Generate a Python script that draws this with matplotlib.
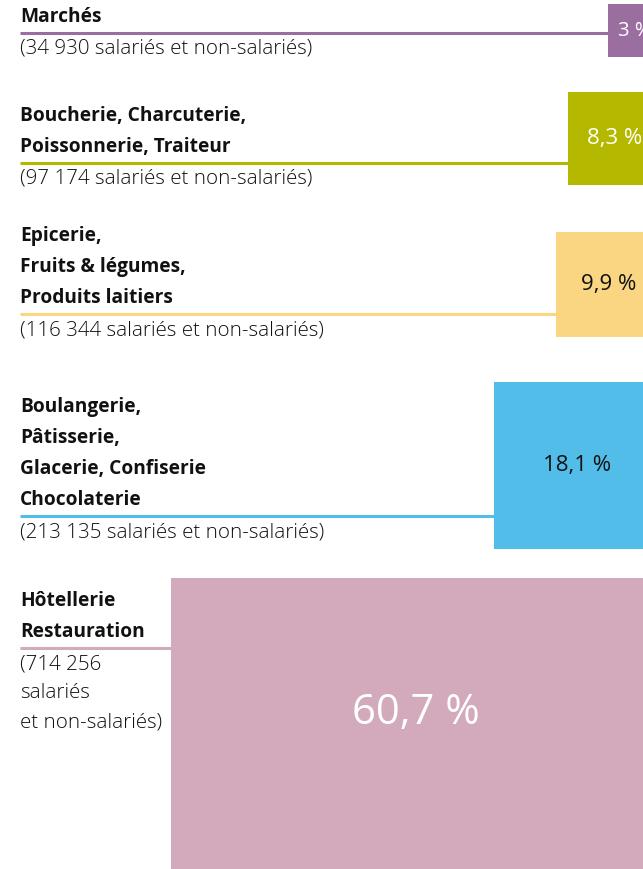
import matplotlib.pyplot as plt
from matplotlib.patches import Rectangle

# data
sectors = [
    ["Marchés"],
    ["Boucherie, Charcuterie,", "Poissonnerie, Traiteur"],
    ["Epicerie,", "Fruits & légumes,", "Produits laitiers"],
    ["Boulangerie,", "Pâtisserie,", "Glacerie, Confiserie", "Chocolaterie"],
    ["Hôtellerie", "Restauration"],
]
workers = [
    ["(34 930 salariés et non-salariés)"],
    ["(97 174 salariés et non-salariés)"],
    ["(116 344 salariés et non-salariés)"],
    ["(213 135 salariés et non-salariés)"],
    ["(714 256", "salariés", "et non-salariés)"],
]
shares = [3.0, 8.3, 9.9, 18.1, 60.7]
share_labels = ["3 %", "8,3 %", "9,9 %", "18,1 %", "60,7 %"]

# layout (pixels)
colors = ["#9a6e9e", "#b4b900", "#fad683", "#52bde8", "#d3a9bc"]
text_colors = ["white", "white", "#111111", "#111111", "white"]
share_sizes = [14.5, 16, 16, 16, 30]
box_tops = [4, 92, 232, 382, 578]
rule_ys = [33, 163, 314, 516, 648]
right_edge = 661

W, H = 643, 869
fig = plt.figure(figsize=(W / 100, H / 100), dpi=100)
ax = fig.add_axes([0, 0, 1, 1])
ax.set_xlim(0, W)
ax.set_ylim(H, 0)
ax.axis("off")

for i in range(len(shares)):
    side = 30.3 + 7.57 * shares[i]
    left = right_edge - side
    top = box_tops[i]
    ax.add_patch(Rectangle((left, top), side, side, color=colors[i], lw=0))
    # percentage label
    ty = top + min(side / 2, 135)
    ax.text(left + side / 2, ty, share_labels[i], ha="center", va="center",
            color=text_colors[i], fontsize=share_sizes[i], family="Open Sans")
    # rule under sector name
    ax.plot([20, left], [rule_ys[i], rule_ys[i]], color=colors[i], lw=2.2,
            solid_capstyle="butt")
    # sector name, bold lines going up from the rule
    n = len(sectors[i])
    for j, line in enumerate(sectors[i]):
        y = rule_ys[i] - 16 - (n - 1 - j) * 31
        ax.text(20, y, line, ha="left", va="center", fontsize=13.8,
                fontweight="bold", family="Open Sans", color="#111111")
    for j, line in enumerate(workers[i]):
        y = rule_ys[i] + 16 + j * 29
        ax.text(20, y, line, ha="left", va="center", fontsize=14.8,
                fontweight="light", family="Open Sans", color="#111111")

fig.savefig("out.png", dpi=100)
